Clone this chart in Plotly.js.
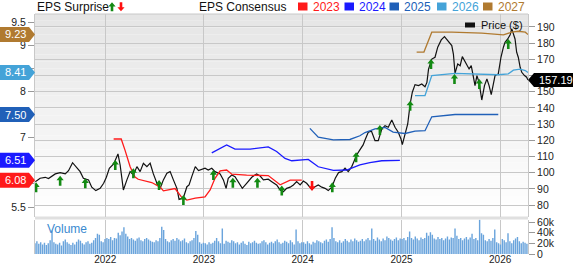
<!DOCTYPE html>
<html><head><meta charset="utf-8">
<script src="https://cdn.plot.ly/plotly-3.0.1.min.js"></script>
<style>html,body{margin:0;padding:0;background:#fff}#chart{width:573px;height:264px}</style>
</head><body><div id="chart"></div>
<script>
// ---------------- DATA ----------------
const priceDates = ["2021-04-17","2021-05-05","2021-05-24","2021-06-05","2021-06-30","2021-07-18","2021-08-06","2021-08-18","2021-09-02","2021-09-18","2021-09-30","2021-10-12","2021-10-31","2021-11-12","2021-11-27","2021-12-13","2021-12-26",
"2022-01-05","2022-01-16","2022-02-01","2022-02-17","2022-02-25","2022-03-09","2022-03-22","2022-04-03","2022-04-15","2022-04-28","2022-05-10","2022-05-22","2022-06-04","2022-06-16","2022-06-28","2022-07-11","2022-07-23","2022-08-04","2022-08-17","2022-08-29","2022-09-10","2022-09-23","2022-10-01","2022-10-17","2022-10-30","2022-11-07","2022-11-17","2022-11-30","2022-12-12","2022-12-30",
"2023-01-05","2023-01-17","2023-01-30","2023-02-11","2023-03-02","2023-03-14","2023-03-24","2023-04-01","2023-04-14","2023-04-26","2023-05-08","2023-05-23","2023-06-08","2023-06-27","2023-07-15","2023-07-28","2023-08-09","2023-08-27","2023-09-09","2023-09-27","2023-10-10","2023-10-22","2023-11-03","2023-11-16","2023-11-28","2023-12-10","2023-12-23",
"2024-01-04","2024-01-16","2024-02-04","2024-02-16","2024-02-28","2024-03-12","2024-03-24","2024-04-05","2024-04-18","2024-05-01","2024-05-13","2024-05-25","2024-06-06","2024-06-18","2024-07-01","2024-07-09","2024-07-19","2024-07-31","2024-08-12","2024-08-19","2024-08-31","2024-09-12","2024-09-25","2024-10-07","2024-10-20","2024-11-01","2024-11-13","2024-11-26","2024-12-08","2024-12-20","2024-12-30",
"2025-01-04","2025-01-14","2025-01-24","2025-02-02","2025-02-10","2025-02-20","2025-03-05","2025-03-17","2025-03-29","2025-04-05","2025-04-11","2025-04-23","2025-05-05","2025-05-15","2025-05-28","2025-06-09","2025-06-24","2025-07-06","2025-07-12","2025-07-18","2025-07-28","2025-08-06","2025-08-14","2025-08-22","2025-08-31","2025-09-08","2025-09-16","2025-09-24","2025-09-30","2025-10-07","2025-10-15","2025-10-25","2025-11-04","2025-11-13","2025-11-21","2025-11-29","2025-12-07","2025-12-13","2025-12-25",
"2026-01-04","2026-01-13","2026-01-19","2026-01-29","2026-02-07","2026-02-13","2026-02-19","2026-02-25","2026-03-03","2026-03-09","2026-03-16","2026-03-22","2026-04-01","2026-04-09","2026-04-14"];
const priceValues = [94.5,96.6,97.2,96.4,99.3,100.1,99.3,101.3,106.2,102.8,100.7,96.6,95.6,91.1,89.0,90.4,93.5,
97.2,102.8,105.4,111.6,104.8,89.4,95.6,100.7,98.6,103.8,100.7,105.9,103.8,105.9,99.3,93.5,90.4,95.6,99.7,100.7,95.6,90.4,83.6,84.6,91.4,92.5,97.6,103.8,101.3,102.8,
102.8,101.7,102.8,100.7,99.3,95.6,90.4,96.6,98.6,97.6,94.5,90.4,93.5,97.2,99.3,98.0,95.6,96.0,94.5,92.5,89.4,88.3,90.4,91.1,92.5,94.5,92.5,
94.9,93.5,89.8,91.4,92.5,91.1,90.4,89.0,91.1,96.6,100.1,100.7,102.8,100.7,103.8,106.9,111.0,114.1,117.2,120.2,125.0,125.6,119.8,119.8,127.0,129.1,128.1,132.6,128.1,125.0,120.9,
117.4,124.0,130.1,142.5,149.7,154.4,153.8,154.8,153.1,155.8,164.0,170.2,171.3,177.5,182.0,184.0,180.6,178.5,173.3,161.4,167.2,166.1,171.7,169.2,167.2,164.1,166.1,160.0,153.8,160.0,155.8,144.9,153.8,157.9,153.8,148.2,154.8,160.0,161.0,
171.3,177.5,180.6,182.6,185.2,188.8,185.7,182.6,174.4,171.3,165.1,162.0,160.0,159.0,157.19];

const surpriseDates = ["2021-04-20","2021-07-18","2021-10-19","2022-02-07","2022-04-15","2022-07-19","2022-10-17","2023-02-05","2023-04-18","2023-07-18","2023-10-16","2024-02-05","2024-04-20","2024-07-17","2024-10-13","2025-02-02","2025-04-20","2025-07-16","2025-10-16","2026-01-31"];
const surprisePrices = [91.0,95.1,93.5,104.8,99.7,92.5,83.2,98.6,93.9,93.9,89.0,91.9,91.0,109.6,126.4,141.4,167.2,157.9,154.8,179.5];
const surpriseDir = ["up","up","up","up","up","up","up","up","up","up","up","down","up","up","up","up","up","up","up","up"];

const consensusYears = ["2023","2024","2025","2026","2027"];
const cons2023Dates = ["2022-02-01","2022-03-01","2022-03-15","2022-04-03","2022-04-21","2022-05-03","2022-06-22","2022-07-23","2022-08-04","2022-09-16","2022-10-11","2022-10-30","2022-11-30","2023-01-05","2023-01-24","2023-02-11","2023-03-02","2023-03-26","2023-04-14","2023-06-08","2023-08-27","2023-10-10","2023-11-16","2023-12-29"];
const cons2023 = [6.97,6.97,6.73,6.37,6.15,6.10,6.03,5.93,5.85,5.90,5.71,5.65,5.69,5.72,5.87,6.12,6.28,6.30,6.21,6.19,6.18,5.98,6.08,6.08];
const cons2024Dates = ["2023-01-30","2023-03-26","2023-04-26","2023-06-21","2023-08-27","2023-09-27","2023-10-28","2023-11-22","2024-01-22","2024-02-28","2024-04-24","2024-06-12","2024-07-31","2024-09-06","2024-10-20","2024-12-26"];
const cons2024 = [6.67,6.84,6.75,6.75,6.80,6.70,6.55,6.50,6.53,6.37,6.29,6.30,6.41,6.46,6.50,6.51];
const cons2025Dates = ["2024-01-28","2024-02-28","2024-04-24","2024-06-24","2024-07-31","2024-08-19","2024-09-25","2024-11-01","2024-12-01","2025-01-14","2025-02-20","2025-03-29","2025-04-23","2025-07-18","2025-12-25"];
const cons2025 = [7.20,7.01,6.95,6.96,7.04,7.11,7.19,7.22,7.12,7.09,7.14,7.15,7.45,7.50,7.50];
const cons2026Dates = ["2025-02-20","2025-03-29","2025-04-23","2025-07-18","2025-12-25","2026-01-31","2026-02-19","2026-03-16","2026-04-04","2026-04-14"];
const cons2026 = [7.91,7.91,8.34,8.39,8.36,8.38,8.46,8.48,8.45,8.41];
const cons2027Dates = ["2025-02-26","2025-03-25","2025-04-23","2025-07-06","2025-10-25","2026-01-13","2026-02-13","2026-03-09","2026-04-04","2026-04-14"];
const cons2027 = [8.85,8.85,9.28,9.28,9.26,9.22,9.28,9.30,9.28,9.23];

const volumeDates = ("2021-04-16 2021-04-23 2021-04-30 2021-05-07 2021-05-14 2021-05-21 2021-05-28 2021-06-04 2021-06-11 2021-06-18 2021-06-25 2021-07-02 2021-07-09 2021-07-16 2021-07-23 2021-07-30 2021-08-06 2021-08-13 2021-08-20 2021-08-27 2021-09-03 2021-09-10 2021-09-17 2021-09-24 2021-10-01 2021-10-08 2021-10-15 2021-10-22 2021-10-29 2021-11-05 2021-11-12 2021-11-19 2021-11-26 2021-12-03 2021-12-10 2021-12-17 2021-12-24 2021-12-31 " +
"2022-01-07 2022-01-14 2022-01-21 2022-01-28 2022-02-04 2022-02-11 2022-02-18 2022-02-25 2022-03-04 2022-03-11 2022-03-18 2022-03-25 2022-04-01 2022-04-08 2022-04-15 2022-04-22 2022-04-29 2022-05-06 2022-05-13 2022-05-20 2022-05-27 2022-06-03 2022-06-10 2022-06-17 2022-06-24 2022-07-01 2022-07-08 2022-07-15 2022-07-22 2022-07-29 2022-08-05 2022-08-12 2022-08-19 2022-08-26 2022-09-02 2022-09-09 2022-09-16 2022-09-23 2022-09-30 2022-10-07 2022-10-14 2022-10-21 2022-10-28 2022-11-04 2022-11-11 2022-11-18 2022-11-25 2022-12-02 2022-12-09 2022-12-16 2022-12-23 2022-12-30 " +
"2023-01-06 2023-01-13 2023-01-20 2023-01-27 2023-02-03 2023-02-10 2023-02-17 2023-02-24 2023-03-03 2023-03-10 2023-03-17 2023-03-24 2023-03-31 2023-04-07 2023-04-14 2023-04-21 2023-04-28 2023-05-05 2023-05-12 2023-05-19 2023-05-26 2023-06-02 2023-06-09 2023-06-16 2023-06-23 2023-06-30 2023-07-07 2023-07-14 2023-07-21 2023-07-28 2023-08-04 2023-08-11 2023-08-18 2023-08-25 2023-09-01 2023-09-08 2023-09-15 2023-09-22 2023-09-29 2023-10-06 2023-10-13 2023-10-20 2023-10-27 2023-11-03 2023-11-10 2023-11-17 2023-11-24 2023-12-01 2023-12-08 2023-12-15 2023-12-22 2023-12-29 " +
"2024-01-05 2024-01-12 2024-01-19 2024-01-26 2024-02-02 2024-02-09 2024-02-16 2024-02-23 2024-03-01 2024-03-08 2024-03-15 2024-03-22 2024-03-29 2024-04-05 2024-04-12 2024-04-19 2024-04-26 2024-05-03 2024-05-10 2024-05-17 2024-05-24 2024-05-31 2024-06-07 2024-06-14 2024-06-21 2024-06-28 2024-07-05 2024-07-12 2024-07-19 2024-07-26 2024-08-02 2024-08-09 2024-08-16 2024-08-23 2024-08-30 2024-09-06 2024-09-13 2024-09-20 2024-09-27 2024-10-04 2024-10-11 2024-10-18 2024-10-25 2024-11-01 2024-11-08 2024-11-15 2024-11-22 2024-11-29 2024-12-06 2024-12-13 2024-12-20 2024-12-27 " +
"2025-01-03 2025-01-10 2025-01-17 2025-01-24 2025-01-31 2025-02-07 2025-02-14 2025-02-21 2025-02-28 2025-03-07 2025-03-14 2025-03-21 2025-03-28 2025-04-04 2025-04-11 2025-04-18 2025-04-25 2025-05-02 2025-05-09 2025-05-16 2025-05-23 2025-05-30 2025-06-06 2025-06-13 2025-06-20 2025-06-27 2025-07-04 2025-07-11 2025-07-18 2025-07-25 2025-08-01 2025-08-08 2025-08-15 2025-08-22 2025-08-29 2025-09-05 2025-09-12 2025-09-19 2025-09-26 2025-10-03 2025-10-10 2025-10-17 2025-10-24 2025-10-31 2025-11-07 2025-11-14 2025-11-21 2025-11-28 2025-12-05 2025-12-12 2025-12-19 2025-12-26 " +
"2026-01-02 2026-01-09 2026-01-16 2026-01-23 2026-01-30 2026-02-06 2026-02-13 2026-02-20 2026-02-27 2026-03-06 2026-03-13 2026-03-20 2026-03-27 2026-04-03 2026-04-10").split(" ");
const volumeK = [20,24,19,22,18,21,17,20,26,44,22,19,18,21,16,24,27,22,19,17,21,18,23,27,25,20,18,22,24,19,21,26,30,38,36,24,22,28,
30,28,32,26,30,29,40,35,42,50,38,33,28,30,27,25,29,31,26,24,28,30,27,25,23,22,26,24,30,51,45,28,24,22,26,28,25,30,27,24,26,29,22,20,24,26,30,43,36,22,19,21,
20,18,22,19,21,25,30,24,20,48,19,25,23,21,26,24,20,22,18,21,24,19,17,23,20,22,25,21,19,20,24,26,22,18,21,23,20,24,27,22,19,21,25,23,20,26,22,18,46,24,20,22,
22,19,24,20,18,23,21,26,24,22,20,25,27,23,28,50,30,24,22,26,21,24,28,25,22,27,24,29,26,23,25,28,24,27,30,26,48,28,25,31,27,24,29,26,33,30,27,25,28,31,26,29,
28,30,26,32,42,30,27,33,29,26,31,28,30,40,34,41,36,29,27,32,28,30,26,29,33,27,31,30,48,34,28,30,26,29,32,27,31,38,28,30,26,64,39,36,26,24,28,25,30,46,22,20,
18,28,26,22,39,24,20,26,29,32,24,20,23,21,19];

const xTickVals = ["2022-01-01","2023-01-01","2024-01-01","2025-01-01","2026-01-01"];
const xTickText = ["2022","2023","2024","2025","2026"];
const priceTicks = [80,90,100,110,120,130,140,150,160,170,180,190];
const priceTickText = ["80","90","100","110","120","130","140","150","","170","180","190"]; // 160 hidden under the price badge
const epsTicks = [5.5,6,6.5,7,7.5,8,8.5,9,9.5];
const epsTickText = ["5.5","","","7","","8","","9","9.5"]; // 6, 6.5, 7.5, 8.5 hidden under the value badges
const volTicks = [0,20,40,60];
const volTickText = ["0","20k","40k","60k"];
const headerTitles = ["EPS Surprise","EPS Consensus"];
const priceLabel = "Price ($)";
const volumeLabel = "Volume";

// ---------------- STYLE / GEOMETRY ----------------
const FONT = "Liberation Sans, Arial, Helvetica, sans-serif";
const W = 573, H = 264, L = 35, R = 528, T = 14, MAINB = 217, VOLT = 219.5, B = 254;
const px = x => (x - L) / (R - L);
const py = y => (B - y) / (B - T);
const consColors = {"2023":"#ff1a1a","2024":"#1a1aff","2025":"#2060b8","2026":"#44a3d8","2027":"#b07a30"};
const consData = {"2023":[cons2023Dates,cons2023],"2024":[cons2024Dates,cons2024],"2025":[cons2025Dates,cons2025],"2026":[cons2026Dates,cons2026],"2027":[cons2027Dates,cons2027]};
const GREEN = "#138a13", RED = "#ff1010";
const upPath = "M0,5 L3.6,0.4 L1.3,0.4 L1.3,-5 L-1.3,-5 L-1.3,0.4 L-3.6,0.4 Z";
const downPath = "M0,-5 L3.6,-0.4 L1.3,-0.4 L1.3,5 L-1.3,5 L-1.3,-0.4 L-3.6,-0.4 Z";

const traces = [];
traces.push({type:"bar", x:volumeDates, y:volumeK, xaxis:"x", yaxis:"y3",
  marker:{color:"#6aa4dc", line:{width:0}}, hoverinfo:"skip"});
consensusYears.forEach(yr => {
  traces.push({type:"scatter", mode:"lines", x:consData[yr][0], y:consData[yr][1], xaxis:"x", yaxis:"y2",
    line:{color:consColors[yr], width:1.3}, hoverinfo:"skip"});
});
traces.push({type:"scatter", mode:"lines", x:priceDates, y:priceValues, xaxis:"x", yaxis:"y",
  line:{color:"#111", width:1.2}, hoverinfo:"skip"});

const shapes = [];
const NB = 30;
for (let i = 0; i < NB; i++) {
  const t = i / (NB - 1);
  const c = Math.round(229 + (255 - 229) * t);
  const y0 = T + (MAINB - T) * i / NB, y1 = T + (MAINB - T) * (i + 1) / NB;
  shapes.push({type:"rect", xref:"paper", yref:"paper", x0:0, x1:1, y0:py(y1), y1:py(y0),
    fillcolor:`rgb(${c},${c},${c})`, line:{width:0}, layer:"below"});
}
shapes.push({type:"rect", xref:"paper", yref:"paper", x0:0, x1:1, y0:py(VOLT), y1:py(MAINB-0.5),
  fillcolor:"#e0e0e0", line:{width:0}, layer:"below"});
shapes.push({type:"line", xref:"paper", yref:"paper", x0:0, x1:1, y0:1, y1:1, line:{color:"#c8c8c8", width:1}});
surpriseDates.forEach((d, i) => {
  shapes.push({type:"path", xref:"x", yref:"y", xsizemode:"pixel", ysizemode:"pixel",
    xanchor:d, yanchor:surprisePrices[i], path: surpriseDir[i] === "up" ? upPath : downPath,
    fillcolor: surpriseDir[i] === "up" ? GREEN : RED, line:{width:0}, layer:"above"});
});
shapes.push({type:"path", xref:"paper", yref:"paper", xsizemode:"pixel", ysizemode:"pixel",
  xanchor:px(112), yanchor:py(6.8), path:upPath.replace(/5/g,"4.5"), fillcolor:GREEN, line:{width:0}});
shapes.push({type:"path", xref:"paper", yref:"paper", xsizemode:"pixel", ysizemode:"pixel",
  xanchor:px(121), yanchor:py(6.8), path:downPath.replace(/5/g,"4.5"), fillcolor:RED, line:{width:0}});

const annotations = [];
annotations.push({xref:"paper", yref:"paper", x:px(35), y:py(6.8), xanchor:"left", yanchor:"middle",
  text:headerTitles[0], showarrow:false, font:{family:FONT, size:12, color:"#111"}});
annotations.push({xref:"paper", yref:"paper", x:px(197), y:py(6.8), xanchor:"left", yanchor:"middle",
  text:headerTitles[1], showarrow:false, font:{family:FONT, size:12, color:"#111"}});
const legendX = {"2023":298,"2024":344.5,"2025":389.5,"2026":437,"2027":483};
consensusYears.forEach(yr => {
  const x0 = legendX[yr];
  shapes.push({type:"rect", xref:"paper", yref:"paper", x0:px(x0), x1:px(x0+9.5), y0:py(10.5), y1:py(2.5),
    fillcolor:consColors[yr], line:{width:0}});
  annotations.push({xref:"paper", yref:"paper", x:px(x0+12.5), y:py(6.8), xanchor:"left", yanchor:"middle",
    text:yr, showarrow:false, font:{family:FONT, size:12, color:consColors[yr]}});
  const vals = consData[yr][1];
  const v = vals[vals.length - 1];
  shapes.push({type:"path", xref:"paper", yref:"y2", xsizemode:"pixel", ysizemode:"pixel",
    xanchor:0, yanchor:v, path:"M0,0 L-6,7.5 L-35,7.5 L-35,-7.5 L-6,-7.5 Z",
    fillcolor:consColors[yr], line:{width:0}, layer:"above"});
  annotations.push({xref:"paper", yref:"y2", x:px(15), y:v, xanchor:"center", yanchor:"middle",
    text:v.toFixed(2), showarrow:false, font:{family:FONT, size:11, color:"#fff"}});
});
shapes.push({type:"rect", xref:"paper", yref:"paper", x0:px(465), x1:px(475), y0:py(27.5), y1:py(22.5),
  fillcolor:"#111", line:{width:0}});
annotations.push({xref:"paper", yref:"paper", x:px(479), y:py(25), xanchor:"left", yanchor:"middle",
  text:priceLabel, showarrow:false, font:{family:FONT, size:11, color:"#111"}});
const lastPrice = priceValues[priceValues.length - 1];
shapes.push({type:"path", xref:"paper", yref:"y", xsizemode:"pixel", ysizemode:"pixel",
  xanchor:1, yanchor:lastPrice, path:"M0,0 L6,7 L45,7 L45,-7 L6,-7 Z", fillcolor:"#000", line:{width:0}, layer:"above"});
annotations.push({xref:"paper", yref:"y", x:px(537), y:lastPrice, xanchor:"left", yanchor:"middle",
  text:lastPrice.toFixed(2), showarrow:false, font:{family:FONT, size:11, color:"#fff"}});
annotations.push({xref:"paper", yref:"paper", x:px(45), y:py(229), xanchor:"left", yanchor:"middle",
  text:volumeLabel, showarrow:false, font:{family:FONT, size:12, color:"#3a8ad0"}});

const tickFont = {family:FONT, size:10.5, color:"#222"};
const layout = {
  width:W, height:H, margin:{l:L, r:W-R, t:T, b:H-B, pad:0},
  paper_bgcolor:"#fff", plot_bgcolor:"rgba(0,0,0,0)", showlegend:false, bargap:0.25,
  xaxis:{type:"date", range:["2021-04-16","2026-04-14"], anchor:"y3", tickmode:"array",
    tickvals:xTickVals, ticktext:xTickText, showgrid:true, gridcolor:"#c8c8c8", gridwidth:1,
    ticks:"", ticklabelstandoff:-2, showline:false, zeroline:false, tickfont:{family:FONT, size:10, color:"#222"}},
  yaxis:{domain:[py(MAINB), 1], range:[72.7, 198], side:"right", tickmode:"array", tickvals:priceTicks, ticktext:priceTickText,
    showgrid:true, gridcolor:"#c8c8c8", ticks:"outside", ticklen:6, tickcolor:"#999",
    showline:true, linecolor:"#c8c8c8", mirror:true, zeroline:false, tickfont:tickFont},
  yaxis2:{overlaying:"y", side:"left", range:[5.284, 9.673], tickmode:"array", tickvals:epsTicks, ticktext:epsTickText,
    showgrid:false, ticks:"outside", ticklen:6, tickcolor:"#999", zeroline:false, tickfont:tickFont},
  yaxis3:{domain:[0, py(VOLT)], range:[0, 64.7], side:"right", tickmode:"array", tickvals:volTicks, ticktext:volTickText,
    showgrid:false, ticks:"outside", ticklen:6, tickcolor:"#999", showline:true, linecolor:"#c8c8c8", mirror:true,
    zeroline:false, tickfont:tickFont},
  shapes:shapes, annotations:annotations
};
Plotly.newPlot("chart", traces, layout, {staticPlot:true, displayModeBar:false});
</script></body></html>
